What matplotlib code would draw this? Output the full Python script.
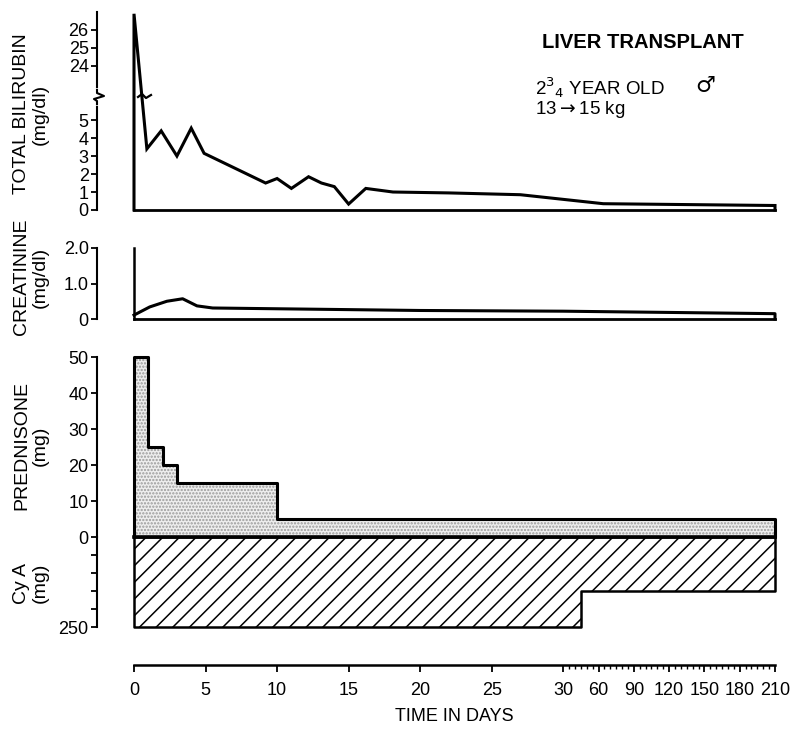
import numpy as np
import matplotlib
matplotlib.use('Agg')
import matplotlib.pyplot as plt
from matplotlib.lines import Line2D

plt.rcParams['font.family'] = ['Liberation Sans', 'DejaVu Sans']
plt.rcParams['hatch.linewidth'] = 1.1

# Datos
bili_days = [0, 0.9, 1.9, 3.0, 4.0, 4.9, 9.2, 10.0, 11.0, 12.2, 13.1, 14.0, 15.0, 16.2, 18.1, 22, 27, 64, 210]
bili_vals = [26.9, 3.4, 4.4, 3.0, 4.55, 3.15, 1.5, 1.75, 1.2, 1.85, 1.5, 1.3, 0.33, 1.2, 1.0, 0.95, 0.85, 0.35, 0.25]

crea_days = [0, 1.1, 2.3, 3.4, 4.4, 5.5, 20, 30, 210]
crea_vals = [0.11, 0.34, 0.5, 0.57, 0.37, 0.31, 0.24, 0.22, 0.15]

pred_start = [0, 1, 2, 3, 10]
pred_dose = [50, 25, 20, 15, 5]

cya_start = [0, 45]
cya_dose = [250, 150]

last_day = 210
x_ticks = [0, 5, 10, 15, 20, 25, 30, 60, 90, 120, 150, 180, 210]
x_minor = list(range(35, 210, 5))
bili_ticks = [0, 1, 2, 3, 4, 5, 24, 25, 26]

W, H = 800, 729


def box(x0, y0, x1, y1):
    return [x0 / W, 1 - y1 / H, (x1 - x0) / W, (y1 - y0) / H]


def px(x, y):
    return x / W, 1 - y / H


# Escala de tiempo: lineal hasta 30 días, luego comprimida
XD = [-50, 0, 30, 210, 500]
XU = [-50, 0, 30, 44.8, 68.7]
fwd_x = lambda d: np.interp(d, XD, XU)
inv_x = lambda u: np.interp(u, XU, XD)

# Eje de bilirrubina con corte entre 6.2 y 22.2
YD = [-100, 6.2, 22.2, 100]
YU = [-100, 6.2, 6.21, 84.01]
fwd_b = lambda y: np.interp(y, YD, YU)
inv_b = lambda v: np.interp(v, YU, YD)

fig = plt.figure(figsize=(8, 7.29), dpi=100)

OFF = 37 * 72 / 100  # desplazamiento del eje y en puntos
LW = 2.2
FS_TICK = 13


def estilo(ax, show_bottom=True):
    ax.set_xscale('function', functions=(fwd_x, inv_x))
    ax.set_xlim(0, last_day)
    ax.set_xticks([])
    ax.xaxis.set_minor_locator(plt.NullLocator())
    for s in ['top', 'right']:
        ax.spines[s].set_visible(False)
    ax.spines['bottom'].set_visible(show_bottom)
    ax.spines['bottom'].set_linewidth(2)
    ax.spines['left'].set_position(('outward', OFF))
    ax.spines['left'].set_linewidth(1.5)
    ax.tick_params(axis='y', direction='out', length=4, width=1.3, labelsize=FS_TICK, pad=2)
    ax.patch.set_visible(False)


# Bilirrubina
ax1 = fig.add_axes(box(134, 12, 775, 210))
estilo(ax1)
ax1.set_yscale('function', functions=(fwd_b, inv_b))
ax1.set_ylim(0, 27)
ax1.set_yticks(bili_ticks)
ax1.set_yticklabels([str(t) for t in bili_ticks])
ax1.yaxis.set_minor_locator(plt.NullLocator())
ax1.plot([0] + bili_days + [last_day], [0] + bili_vals + [0], color='black', lw=LW,
         clip_on=False, solid_joinstyle='miter')

# Creatinina
ax2 = fig.add_axes(box(134, 248, 775, 319))
estilo(ax2)
ax2.set_ylim(0, 2.0)
ax2.set_yticks([0, 1, 2])
ax2.set_yticklabels(['0', '1.0', '2.0'])
ax2.plot([0, 0], [0, 2.0], color='black', lw=1.8, clip_on=False)
ax2.plot(crea_days + [last_day], crea_vals + [0], color='black', lw=LW, clip_on=False)

# Prednisona
ax3 = fig.add_axes(box(134, 357, 775, 537))
estilo(ax3, show_bottom=False)
ax3.set_ylim(0, 50)
ax3.set_yticks([0, 10, 20, 30, 40, 50])
ex = np.repeat(pred_start + [last_day], 2)
ey = np.concatenate([[0], np.repeat(pred_dose, 2), [0]])
ax3.fill(ex, ey, facecolor='#eeeeee', edgecolor='#9a9a9a', hatch='.....', lw=0, clip_on=False)
ax3.plot(np.append(ex, 0), np.append(ey, 0), color='black', lw=LW, clip_on=False)

# Ciclosporina (eje invertido)
ax4 = fig.add_axes(box(134, 537, 775, 627))
estilo(ax4, show_bottom=False)
ax4.set_ylim(250, 0)
ax4.set_yticks([50, 100, 150, 200, 250])
ax4.set_yticklabels(['', '', '', '', '250'])
cx = np.repeat(cya_start + [last_day], 2)
cy = np.concatenate([[0], np.repeat(cya_dose, 2), [0]])
ax4.fill(cx, cy, facecolor='white', edgecolor='black', hatch='//', lw=0, clip_on=False)
ax4.plot(np.append(cx, 0), np.append(cy, 0), color='black', lw=1.8, clip_on=False)
ax4.plot([0, last_day], [0, 0], color='black', lw=2.6, clip_on=False)

# Eje de tiempo
ax5 = fig.add_axes(box(134, 664, 775, 665))
ax5.set_xscale('function', functions=(fwd_x, inv_x))
ax5.set_xlim(0, last_day)
ax5.set_yticks([])
for s in ['top', 'right', 'left']:
    ax5.spines[s].set_visible(False)
ax5.spines['bottom'].set_linewidth(1.8)
ax5.set_xticks(x_ticks)
ax5.set_xticklabels([str(t) for t in x_ticks])
ax5.set_xticks(x_minor, minor=True)
ax5.tick_params(axis='x', which='major', direction='out', length=5, width=1.3, labelsize=FS_TICK, pad=7)
ax5.tick_params(axis='x', which='minor', direction='out', length=3, width=1.0)
ax5.set_xlabel('TIME IN DAYS', fontsize=13, labelpad=7)
ax5.patch.set_visible(False)

# Títulos de los ejes y
etiquetas = [('TOTAL BILIRUBIN\n(mg/dl)', 114), ('CREATININE\n(mg/dl)', 277),
             ('PREDNISONE\n(mg)', 446), ('Cy A\n(mg)', 583)]
for txt, yc in etiquetas:
    fig.text(*px(31, yc), txt, rotation=90, ha='center', va='center', fontsize=14,
             linespacing=1.1, multialignment='center')

# Cortes del eje y de la línea
fig.lines.append(Line2D(*zip(px(97, 91), px(97, 103)), transform=fig.transFigure, color='white', lw=4))
fig.lines.append(Line2D(*zip(px(97, 90), px(97, 93), px(104, 96), px(94, 99), px(97, 101), px(97, 104)),
                        transform=fig.transFigure, color='black', lw=1.5))
fig.lines.append(Line2D(*zip(px(138, 97), px(142, 94), px(146, 98), px(151, 95)),
                        transform=fig.transFigure, color='black', lw=1.6))

# Leyenda
fig.text(*px(542, 43), 'LIVER TRANSPLANT', fontsize=14.5, fontweight='bold', va='center', ha='left')
fig.text(*px(535, 88), r'2$^{3}$$_{4}$ YEAR OLD', fontsize=13.5, va='center', ha='left')
fig.text(*px(695, 86), '\u2642', fontsize=16, va='center', ha='left', family='DejaVu Sans')
fig.text(*px(535, 110), r'13$\rightarrow$15 kg', fontsize=13.5, va='center', ha='left')

fig.savefig('out.png', dpi=100)
plt.close(fig)
